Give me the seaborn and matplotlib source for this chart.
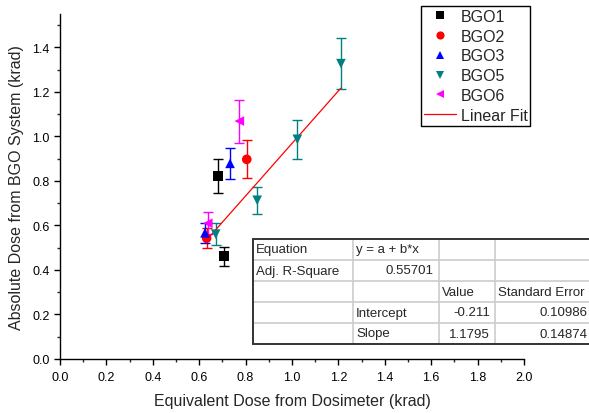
import numpy as np
import pandas as pd
import matplotlib
matplotlib.use("Agg")
import matplotlib.pyplot as plt
from matplotlib.lines import Line2D
import seaborn as sns

# values
bgo1_x = [0.682, 0.707]
bgo1_y = [0.821, 0.462]
bgo1_err = [0.077, 0.043]
bgo2_x = [0.805, 0.632]
bgo2_y = [0.897, 0.543]
bgo2_err = [0.085, 0.045]
bgo3_x = [0.733, 0.625]
bgo3_y = [0.879, 0.567]
bgo3_err = [0.070, 0.045]
bgo5_x = [1.211, 1.023, 0.850, 0.671]
bgo5_y = [1.327, 0.987, 0.713, 0.561]
bgo5_err = [0.116, 0.0875, 0.062, 0.051]
bgo6_x = [0.773, 0.637]
bgo6_y = [1.069, 0.610]
bgo6_err = [0.0965, 0.050]

series = ["BGO1", "BGO2", "BGO3", "BGO5", "BGO6"]
fit_a = -0.211
fit_b = 1.1795

tabla = [
    ["Equation", "y = a + b*x", "", ""],
    ["Adj. R-Square", "0.55701", "", ""],
    ["", "", "Value", "Standard Error"],
    ["", "Intercept", "-0.211", "0.10986"],
    ["", "Slope", "1.1795", "0.14874"],
]

colores = {"BGO1": "#000000", "BGO2": "#ff0000", "BGO3": "#0000ff",
           "BGO5": "#008080", "BGO6": "#ff00ff"}
marcas = {"BGO1": "s", "BGO2": "o", "BGO3": "^", "BGO5": "v", "BGO6": "<"}

xs = [bgo1_x, bgo2_x, bgo3_x, bgo5_x, bgo6_x]
ys = [bgo1_y, bgo2_y, bgo3_y, bgo5_y, bgo6_y]
errs = [bgo1_err, bgo2_err, bgo3_err, bgo5_err, bgo6_err]
filas = []
for s, x, y, e in zip(series, xs, ys, errs):
    for i in range(len(x)):
        filas.append({"serie": s, "x": x[i], "y": y[i], "err": e[i]})
df = pd.DataFrame(filas)

sns.set_style("ticks")
plt.rcParams["font.family"] = ["Liberation Sans", "DejaVu Sans"]

fig = plt.figure(figsize=(5.89, 4.14), dpi=100)
ax = fig.add_axes([60 / 589, 1 - 360 / 414, 464 / 589, 345 / 414])

for s in series:
    d = df[df["serie"] == s]
    ax.errorbar(d["x"], d["y"], yerr=d["err"], fmt="none", ecolor=colores[s],
                elinewidth=1.0, capsize=3.4, capthick=1.0, zorder=2)

sns.scatterplot(data=df, x="x", y="y", hue="serie", style="serie",
                palette=colores, markers=marcas, s=48, linewidth=0,
                ax=ax, zorder=3)

fx = np.array([df["x"].min(), df["x"].max()])
ax.plot(fx, fit_a + fit_b * fx, color="#ff0000", linewidth=0.9, label="Linear Fit", zorder=2.5)

ax.set_xlim(0, 2.0)
ax.set_ylim(0, 1.55)
ax.set_xticks(np.arange(0, 2.01, 0.2))
ax.set_yticks(np.arange(0, 1.41, 0.2))
ax.set_xticks(np.arange(0.1, 2.0, 0.2), minor=True)
ax.set_yticks(np.arange(0.1, 1.55, 0.2), minor=True)
ax.xaxis.set_major_formatter(matplotlib.ticker.FormatStrFormatter("%.1f"))
ax.yaxis.set_major_formatter(matplotlib.ticker.FormatStrFormatter("%.1f"))
ax.tick_params(which="major", direction="out", length=4, width=1, labelsize=9, colors="black")
ax.tick_params(axis="x", which="major", pad=5)
ax.tick_params(which="minor", direction="out", length=2.5, width=1)
sns.despine(ax=ax)
for sp in ["left", "bottom"]:
    ax.spines[sp].set_linewidth(1)
    ax.spines[sp].set_color("black")
ax.set_xlabel("Equivalent Dose from Dosimeter (krad)", fontsize=11.5, labelpad=7)
ax.set_ylabel("Absolute Dose from BGO System (krad)", fontsize=11.5, labelpad=6)

h, l = ax.get_legend_handles_labels()
leg = ax.legend(h, l, loc="upper left", bbox_to_anchor=(421 / 589, 1 - 7 / 414),
                bbox_transform=fig.transFigure, frameon=True, fancybox=False,
                edgecolor="black", fontsize=11.5, borderpad=0.18, borderaxespad=0,
                handlelength=2.0, handletextpad=0.3, labelspacing=0.3,
                markerscale=0.85)
leg.get_frame().set_linewidth(1)
leg.get_frame().set_alpha(1)

# tabla de ajuste dibujada en coordenadas de figura
W, H = 589.0, 414.0
col_x = [253, 353, 439, 495, 592]
row_y = [240, 261, 282, 303, 324, 345]
fig.patches.append(matplotlib.patches.Rectangle((253 / W, 1 - 345 / H), 350 / W, 105 / H,
                   transform=fig.transFigure, facecolor="white", edgecolor="none", zorder=5))
for yy in row_y[1:-1]:
    fig.lines.append(Line2D([253 / W, 1.0], [1 - yy / H] * 2, transform=fig.transFigure,
                            color="#cccccc", linewidth=1.2, zorder=6))
for xx in col_x[1:-1]:
    fig.lines.append(Line2D([xx / W] * 2, [1 - 240 / H, 1 - 345 / H], transform=fig.transFigure,
                            color="#cccccc", linewidth=1.2, zorder=6))
for seg in [([253, 600], [240, 240]), ([253, 600], [345, 345]), ([253, 253], [240, 345])]:
    fig.lines.append(Line2D([v / W for v in seg[0]], [1 - v / H for v in seg[1]],
                            transform=fig.transFigure, color="#333333", linewidth=1.4, zorder=7))

derecha = {(1, 1), (3, 2), (3, 3), (4, 2), (4, 3)}
for r, fila in enumerate(tabla):
    yc = 1 - (row_y[r] + row_y[r + 1]) / 2 / H
    for c, txt in enumerate(fila):
        if not txt:
            continue
        if (r, c) in derecha:
            fig.text((col_x[c + 1] - 5) / W, yc, txt, ha="right", va="center",
                     fontsize=9.5, zorder=8)
        else:
            fig.text((col_x[c] + 3) / W, yc, txt, ha="left", va="center",
                     fontsize=9.5, zorder=8)

fig.savefig("out.png", dpi=100, facecolor="white")
